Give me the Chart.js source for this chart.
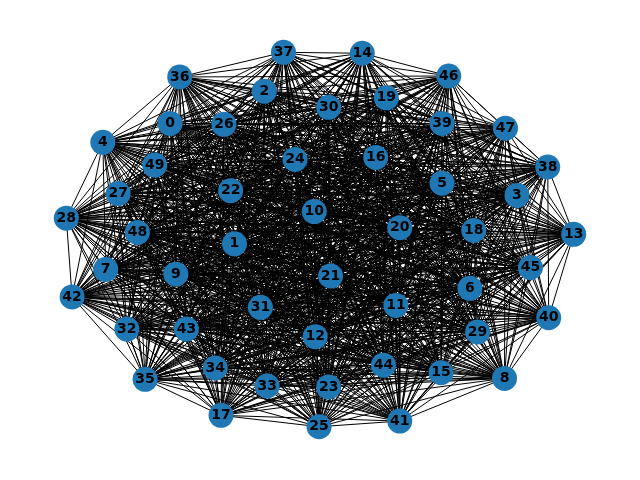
<!DOCTYPE html>
<html>
<head>
<script src="https://cdn.jsdelivr.net/npm/chart.js@4"></script>
<style>body{margin:0;background:#fff}#wrap{width:640px;height:480px}</style>
</head>
<body>
<div id="wrap"><canvas id="c"></canvas></div>
<script>
// node positions (x, y in picture pixels, y measured downward)
const nodeX = [164,231,262,525,94,447,476,97,512,170,314,399,315,584,364,446,378,217,480,389,403,331,227,329,294,319,220,110,56,484,329,258,119,265,211,138,174,282,557,447,558,403,62,181,386,539,454,513,130,148];
const nodeY = [117,244,83,193,137,180,291,271,386,276,210,309,342,234,43,380,153,425,230,90,227,278,188,395,155,437,118,191,217,337,100,311,334,394,375,387,68,42,163,117,322,431,300,334,372,269,67,122,232,161];

const nodes = nodeX.map((x, i) => ({ x: x, y: 480 - nodeY[i], label: String(i) }));

// dense graph: every pair joined, gaps between segments
const edges = [];
for (let i = 0; i < nodes.length; i++) {
  for (let j = i + 1; j < nodes.length; j++) {
    edges.push({ x: nodes[i].x, y: nodes[i].y }, { x: nodes[j].x, y: nodes[j].y }, { x: NaN, y: NaN });
  }
}

const labelPlugin = {
  id: "labels",
  afterDatasetsDraw(chart) {
    const ctx = chart.ctx;
    const meta = chart.getDatasetMeta(1);
    ctx.save();
    ctx.font = "bold 14px 'DejaVu Sans'";
    ctx.fillStyle = "#000";
    ctx.textAlign = "center";
    ctx.textBaseline = "middle";
    meta.data.forEach((pt, i) => ctx.fillText(nodes[i].label, pt.x, pt.y));
    ctx.restore();
  },
};

new Chart(document.getElementById("c"), {
  type: "scatter",
  data: {
    datasets: [
      {
        data: edges,
        showLine: true,
        spanGaps: false,
        borderColor: "#000",
        borderWidth: 1,
        pointRadius: 0,
        order: 2,
      },
      {
        data: nodes,
        backgroundColor: "#1f77b4",
        borderWidth: 0,
        pointRadius: 12.5,
        order: 1,
      },
    ],
  },
  options: {
    responsive: true,
    maintainAspectRatio: false,
    animation: false,
    layout: { padding: 0 },
    plugins: { legend: { display: false }, tooltip: { enabled: false } },
    scales: {
      x: { display: false, min: 0, max: 640 },
      y: { display: false, min: 0, max: 480 },
    },
  },
  plugins: [labelPlugin],
});
</script>
</body>
</html>
